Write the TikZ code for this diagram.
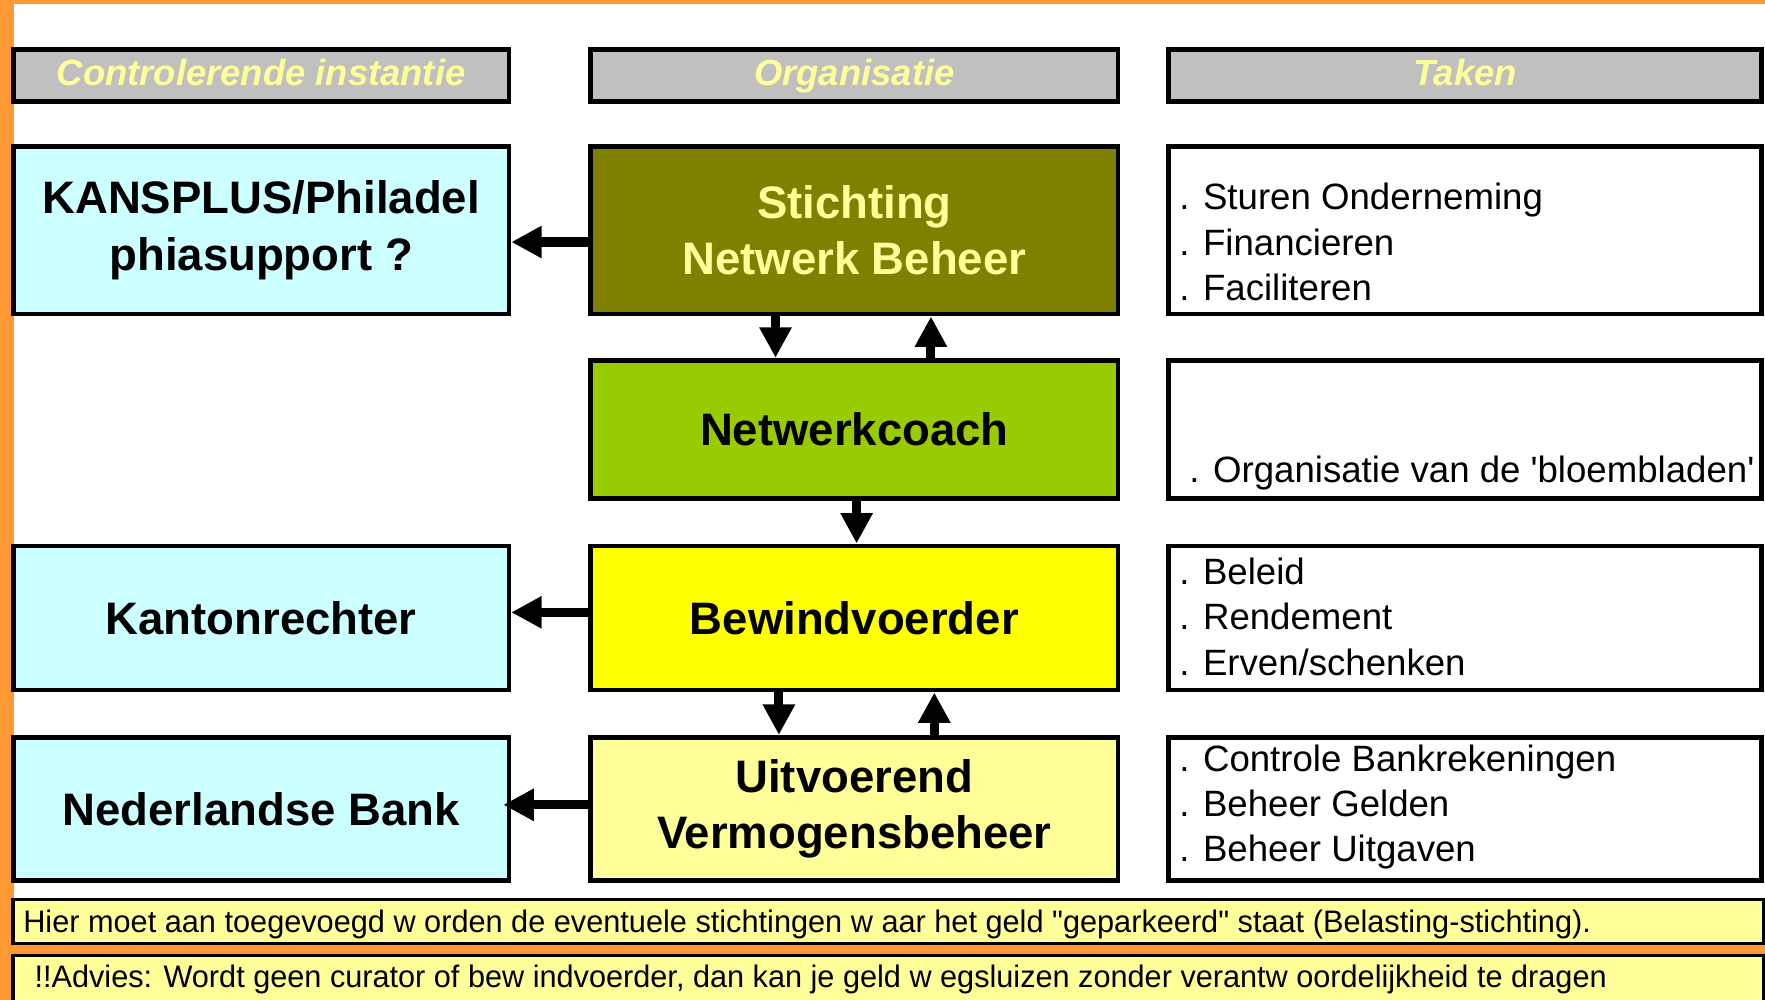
\documentclass[tikz,border=0pt]{standalone}
\usepackage{fontspec}
\setmainfont{Liberation Sans}
\usetikzlibrary{arrows.meta}
\definecolor{orangeb}{HTML}{FF9933}
\definecolor{cyanb}{HTML}{CCFFFF}
\definecolor{oliveb}{HTML}{808000}
\definecolor{greenb}{HTML}{99CC00}
\definecolor{yellowb}{HTML}{FFFF00}
\definecolor{paleyel}{HTML}{FFFF99}
\definecolor{grayb}{HTML}{C0C0C0}
\begin{document}
\begin{tikzpicture}[x=0.01cm,y=-0.01cm,
  box/.style={draw=black, line width=1.2pt, inner sep=0pt, align=center},
  bigtxt/.style={font=\bfseries\fontsize{11.5}{14.2}\selectfont},
  hdr/.style={box, fill=grayb, minimum height=0.46cm, text=paleyel, text height=6.8pt, text depth=1.6pt, font=\bfseries\itshape\fontsize{9.2}{11}\selectfont},
  tasktxt/.style={anchor=west, align=left, inner sep=0pt, font=\fontsize{9.25}{11.4}\selectfont},
  arr/.style={line width=2.3pt, -{Triangle[width=0.27cm,length=0.27cm]}},
  w1/.style={minimum width=4.4cm}, w2/.style={minimum width=4.68cm}, w3/.style={minimum width=5.27cm},
  barbox/.style={draw=black, line width=0.8pt, fill=paleyel, minimum width=15.54cm, inner sep=0pt}
]
\useasboundingbox (0,0) rectangle (1568,888);
\fill[white] (0,0) rectangle (1568,888);
\fill[orangeb] (0,0) rectangle (1568,4);
\fill[orangeb] (0,0) rectangle (12,888);
\fill[orangeb] (12,838) rectangle (1568,850);

% headers
\node[hdr,w1] (h1) at (232,67) {Controlerende instantie};
\node[hdr,w2] (h2) at (759,67) {Organisatie};
\node[hdr,w3] (h3) at (1301.5,67) {Taken};

% row 1
\node[box,w1,fill=cyanb,minimum height=1.49cm,bigtxt] (kans) at (232,204.5) {KANSPLUS/Philadel\\phiasupport ?};
\node[box,w2,fill=oliveb,minimum height=1.49cm,bigtxt,text=paleyel] (stich) at (759,204.5) {Stichting\\Netwerk Beheer};
\node[box,w3,fill=white,minimum height=1.49cm] (t1) at (1301.5,204.5) {};
\node[tasktxt] (t1txt) at (1047,215) {. Sturen Onderneming\\. Financieren\\. Faciliteren};

% row 2
\node[box,w2,fill=greenb,minimum height=1.23cm,bigtxt] (netw) at (759,381.5) {Netwerkcoach};
\node[box,w3,fill=white,minimum height=1.23cm] (t2) at (1301.5,381.5) {};
\node[tasktxt] (t2txt) at (1056,420) {. Organisatie van de \textquotesingle bloembladen\textquotesingle};

% row 3
\node[box,w1,fill=cyanb,minimum height=1.28cm,bigtxt] (kanton) at (232,549) {Kantonrechter};
\node[box,w2,fill=yellowb,minimum height=1.28cm,bigtxt] (bewind) at (759,549) {Bewindvoerder};
\node[box,w3,fill=white,minimum height=1.28cm] (t3) at (1301.5,549) {};
\node[tasktxt] (t3txt) at (1047,548) {. Beleid\\. Rendement\\. Erven/schenken};

% row 4
\node[box,w1,fill=cyanb,minimum height=1.27cm,bigtxt] (nbank) at (232,718.5) {Nederlandse Bank};
\node[box,w2,fill=paleyel,minimum height=1.27cm,bigtxt] (uitv) at (759,718.5) {Uitvoerend\\Vermogensbeheer};
\node[box,w3,fill=white,minimum height=1.27cm] (t4) at (1301.5,718.5) {};
\node[tasktxt] (t4txt) at (1047,717) {. Controle Bankrekeningen\\. Beheer Gelden\\. Beheer Uitgaven};

% bottom bars
\node[barbox,minimum height=0.39cm] (bar1) at (789,818.5) {};
\node[anchor=base west,inner sep=0pt] (bar1txt) at (20,828) {\resizebox{13.92cm}{0.2cm}{Hier moet aan toegevoegd w orden de eventuele stichtingen w aar het geld \textquotedbl geparkeerd\textquotedbl\ staat (Belasting-stichting).}};
\node[barbox,minimum height=0.43cm] (bar2) at (789,870.5) {};
\node[anchor=base west,inner sep=0pt] (bar2txt) at (30,877) {\resizebox{13.96cm}{0.2cm}{!!Advies: Wordt geen curator of bew indvoerder, dan kan je geld w egsluizen zonder verantw oordelijkheid te dragen}};

% arrows
\draw[arr] ([yshift=-0.105cm]stich.west) -- ([yshift=-0.105cm]kans.east);
\draw[arr] ([xshift=-0.7cm]stich.south) -- ([xshift=-0.7cm]netw.north);
\draw[arr] ([xshift=0.68cm]netw.north) -- ([xshift=0.68cm]stich.south);
\draw[arr] ([xshift=0.02cm]netw.south) -- ([xshift=0.02cm]bewind.north);
\draw[arr] ([yshift=0.05cm]bewind.west) -- ([yshift=0.05cm]kanton.east);
\draw[arr] ([xshift=-0.67cm]bewind.south) -- ([xshift=-0.67cm]uitv.north);
\draw[arr] ([xshift=0.71cm]uitv.north) -- ([xshift=0.71cm]bewind.south);
\draw[arr] ([yshift=0.035cm]uitv.west) -- ([xshift=-0.07cm,yshift=0.035cm]nbank.east);
\end{tikzpicture}
\end{document}
